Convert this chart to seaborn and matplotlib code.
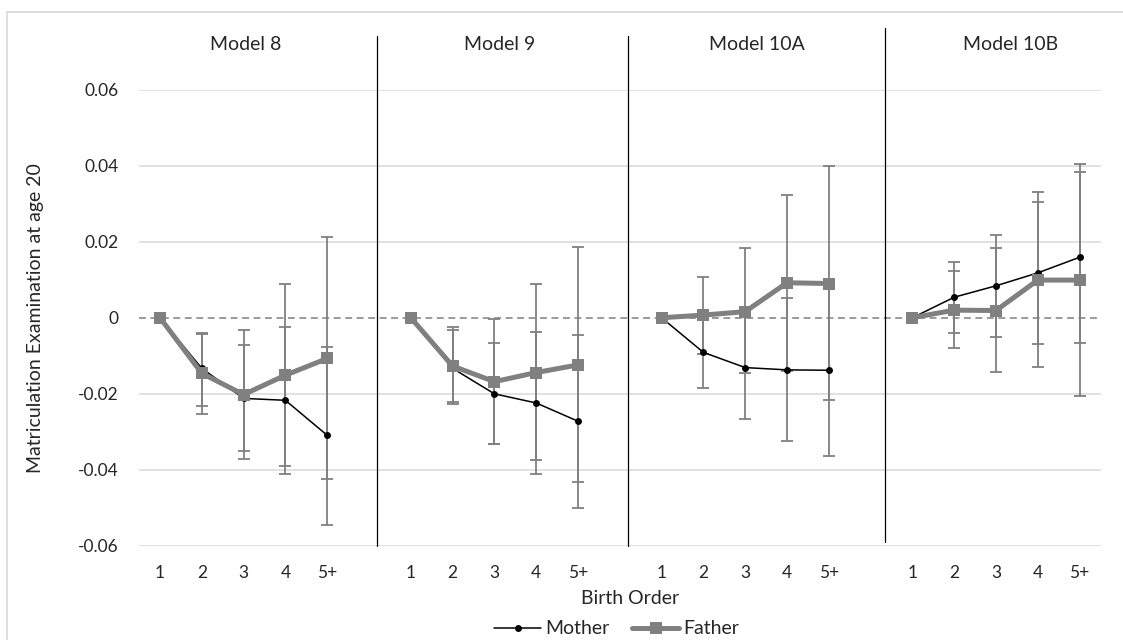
import numpy as np
import pandas as pd
import matplotlib
matplotlib.use('Agg')
import matplotlib.pyplot as plt
from matplotlib.lines import Line2D
import seaborn as sns

# birth order categories and the four model panels
categories = ['1', '2', '3', '4', '5+']
models = ['Model 8', 'Model 9', 'Model 10A', 'Model 10B']

# point estimates and CI bounds, 5 per model (Model 8, 9, 10A, 10B)
mother_est = [0, -0.0133, -0.0212, -0.0217, -0.0309,
              0, -0.0133, -0.0200, -0.0224, -0.0272,
              0, -0.0091, -0.0131, -0.0137, -0.0138,
              0, 0.0054, 0.0084, 0.0118, 0.0159]
mother_lo = [0, -0.0231, -0.0350, -0.0412, -0.0545,
             0, -0.0227, -0.0333, -0.0412, -0.0499,
             0, -0.0185, -0.0266, -0.0324, -0.0364,
             0, -0.0039, -0.0050, -0.0069, -0.0067]
mother_hi = [0, -0.0041, -0.0072, -0.0024, -0.0076,
             0, -0.0032, -0.0066, -0.0037, -0.0046,
             0, 0.0003, 0.0004, 0.0051, 0.0088,
             0, 0.0147, 0.0217, 0.0304, 0.0383]
father_est = [0, -0.0146, -0.0202, -0.0151, -0.0107,
              0, -0.0127, -0.0168, -0.0144, -0.0124,
              0, 0.0007, 0.0016, 0.0092, 0.0090,
              0, 0.0020, 0.0019, 0.0099, 0.0099]
father_lo = [0, -0.0252, -0.0372, -0.0390, -0.0425,
             0, -0.0221, -0.0333, -0.0373, -0.0431,
             0, -0.0094, -0.0145, -0.0139, -0.0216,
             0, -0.0080, -0.0143, -0.0129, -0.0205]
father_hi = [0, -0.0043, -0.0032, 0.0088, 0.0211,
             0, -0.0024, -0.0004, 0.0090, 0.0185,
             0, 0.0108, 0.0183, 0.0323, 0.0399,
             0, 0.0122, 0.0183, 0.0330, 0.0404]

yticks = [-0.06, -0.04, -0.02, 0, 0.02, 0.04, 0.06]
ytick_labels = ['-0.06', '-0.04', '-0.02', '0', '0.02', '0.04', '0.06']

rows = []
for i, m in enumerate(models):
    for j, c in enumerate(categories):
        k = i * 5 + j
        pos = i * 6 + j  # one empty slot between panels
        rows.append(dict(model=m, order=c, pos=pos, series='Mother',
                         est=mother_est[k], lo=mother_lo[k], hi=mother_hi[k]))
        rows.append(dict(model=m, order=c, pos=pos, series='Father',
                         est=father_est[k], lo=father_lo[k], hi=father_hi[k]))
df = pd.DataFrame(rows)

sns.set_theme(style='white')
plt.rcParams['font.family'] = ['Lato', 'DejaVu Sans']
TXT = '#262626'
GREY = '#808080'

fig = plt.figure(figsize=(11.23, 6.4), dpi=100)
ax = fig.add_axes([139.1 / 1123, 94 / 640, 961.4 / 1123, 456.5 / 640])

# error bars (skip the reference category)
eb = df[df.order != '1']
for s in ['Mother', 'Father']:
    d = eb[eb.series == s]
    ax.errorbar(d.pos, d.est, yerr=[d.est - d.lo, d.hi - d.est], fmt='none',
                ecolor=GREY, elinewidth=1.3, capsize=4.3, capthick=1.3, zorder=2)

sns.lineplot(data=df[df.series == 'Mother'], x='pos', y='est', units='model',
             estimator=None, sort=False, color='black', lw=1.1, marker='o',
             markersize=5, markeredgewidth=0, legend=False, ax=ax, zorder=3)
sns.lineplot(data=df[df.series == 'Father'], x='pos', y='est', units='model',
             estimator=None, sort=False, color=GREY, lw=3.6, marker='s',
             markersize=9, markeredgewidth=0, legend=False, ax=ax, zorder=4)

ax.set_xlim(-0.5, 22.5)
ax.set_ylim(-0.06, 0.06)
for v in yticks:
    if v == 0:
        ax.axhline(0, color=GREY, lw=1.1, ls=(0, (4.5, 3)), zorder=1)
    else:
        ax.axhline(v, color='#d9d9d9', lw=1.1, zorder=0)

xpos = [i * 6 + j for i in range(len(models)) for j in range(len(categories))]
ax.set_xticks(xpos)
ax.set_xticklabels(categories * len(models))
ax.set_yticks(yticks)
ax.set_yticklabels(ytick_labels)
ax.tick_params(axis='x', length=0, pad=14, labelsize=12.5, labelcolor=TXT)
ax.tick_params(axis='y', length=0, pad=15, labelsize=12.5, labelcolor=TXT)
ax.set_xlabel('')
ax.set_ylabel('')
for sp in ax.spines.values():
    sp.set_visible(False)

# panel separators and titles
for x, top, bot in [(5.18, 0.0741, -0.06), (11.2, 0.0741, -0.06), (17.34, 0.0762, -0.0589)]:
    ax.plot([x, x], [bot, top], color='black', lw=0.9, clip_on=False, zorder=5)
for x, m in zip([2.045, 8.13, 14.28, 20.35], models):
    ax.text(x, 0.0718, m, ha='center', va='center', fontsize=14, color=TXT)

fig.text(36 / 1123, 1 - 318 / 640, 'Matriculation Examination at age 20',
         rotation=90, ha='center', va='center', fontsize=14, color=TXT)
fig.text(630 / 1123, 1 - 598 / 640, 'Birth Order', ha='center', va='center',
         fontsize=14, color=TXT)

handles = [Line2D([], [], color='black', lw=1.1, marker='o', markersize=5, markeredgewidth=0),
           Line2D([], [], color=GREY, lw=3.6, marker='s', markersize=9, markeredgewidth=0)]
fig.legend(handles, ['Mother', 'Father'], loc='center', ncol=2, frameon=False,
           bbox_to_anchor=(616.5 / 1123, 1 - 629 / 640), fontsize=14,
           handlelength=2.4, handletextpad=0.2, columnspacing=1.2,
           labelcolor=TXT, borderpad=0)

# outer chart frame (top and left edges visible)
fig.add_artist(Line2D([7.3 / 1123, 1], [1 - 11.7 / 640] * 2, transform=fig.transFigure,
                      color='#d9d9d9', lw=1.2))
fig.add_artist(Line2D([7.3 / 1123] * 2, [0, 1 - 11.7 / 640], transform=fig.transFigure,
                      color='#d9d9d9', lw=1.2))

fig.savefig('out.png', dpi=100, facecolor='white')
